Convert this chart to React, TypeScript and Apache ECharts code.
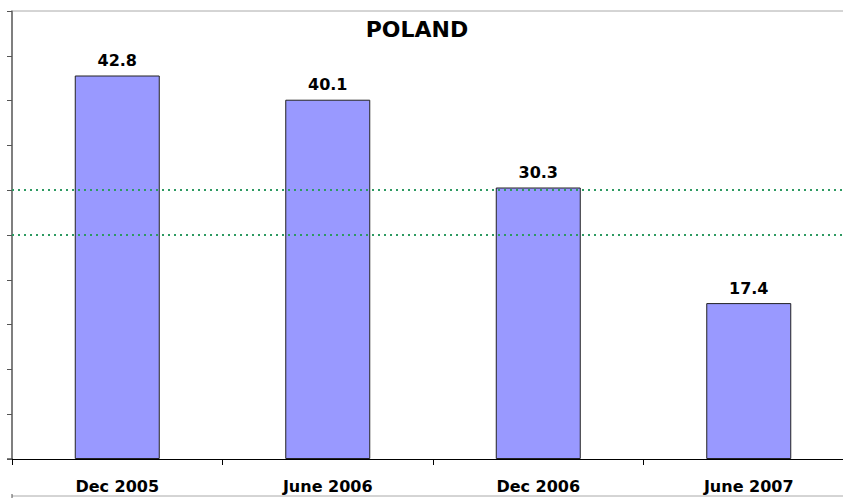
import React, { useEffect, useRef } from "react";
import * as echarts from "echarts";

const categories = ["Dec 2005", "June 2006", "Dec 2006", "June 2007"];
const values = [42.8, 40.1, 30.3, 17.4];
const referenceLines = [30, 25];
const chartTitle = "POLAND";

export default function App() {
  const ref = useRef<HTMLDivElement>(null);
  useEffect(() => {
    if (!ref.current) return;
    const chart = echarts.init(ref.current, null, { renderer: "svg" });
    const font = "'DejaVu Sans', Arial, sans-serif";
    chart.setOption({
      animation: false,
      backgroundColor: "#ffffff",
      title: {
        text: chartTitle,
        left: 412,
        textAlign: "center",
        top: 13,
        textStyle: { fontFamily: font, fontWeight: "bold", fontSize: 22, color: "#000" },
      },
      grid: {
        left: 12,
        top: 11,
        width: 842,
        height: 448,
        containLabel: false,
        outerBoundsMode: "none",
      },
      xAxis: {
        type: "category",
        data: categories,
        boundaryGap: true,
        axisLine: { lineStyle: { color: "#000", width: 1 } },
        axisTick: { show: true, length: 6, alignWithLabel: false, lineStyle: { color: "#000" } },
        axisLabel: {
          fontFamily: font,
          fontWeight: "bold",
          fontSize: 16,
          color: "#000",
          margin: 19,
        },
        splitLine: { show: false },
      },
      yAxis: {
        type: "value",
        min: 0,
        max: 50,
        interval: 5,
        axisLine: { show: true, lineStyle: { color: "#555", width: 1.5 } },
        axisTick: { show: true, length: 5, inside: false, lineStyle: { color: "#555" } },
        axisLabel: { show: false },
        splitLine: { show: false },
      },
      graphic: [
        { type: "line", shape: { x1: 13, y1: 11, x2: 843, y2: 11 }, style: { stroke: "#aaaaaa", lineWidth: 1 } },
        { type: "line", shape: { x1: 7, y1: 459, x2: 13, y2: 459 }, style: { stroke: "#000", lineWidth: 1 } },
        { type: "line", shape: { x1: 12, y1: 496, x2: 843, y2: 496 }, style: { stroke: "#aaaaaa", lineWidth: 1 } },
        { type: "line", shape: { x1: 12, y1: 494, x2: 12, y2: 498 }, style: { stroke: "#555", lineWidth: 1 } },
      ],
      series: [
        {
          type: "bar",
          data: values,
          barWidth: 85,
          itemStyle: { color: "#9999ff", borderColor: "#222", borderWidth: 1 },
          label: {
            show: true,
            position: "top",
            distance: 7,
            fontFamily: font,
            fontWeight: "bold",
            fontSize: 16,
            color: "#000",
            formatter: (p: any) => p.value.toFixed(1),
          },
          markLine: {
            silent: true,
            symbol: "none",
            label: { show: false },
            lineStyle: { color: "#2e9a62", type: [2, 4], width: 2 },
            data: referenceLines.map((v) => ({ yAxis: v })),
          },
        },
      ],
    });
    return () => chart.dispose();
  }, []);
  return (
    <div
      ref={ref}
      style={{ position: "fixed", left: 0, top: 0, width: 843, height: 498 }}
    />
  );
}
